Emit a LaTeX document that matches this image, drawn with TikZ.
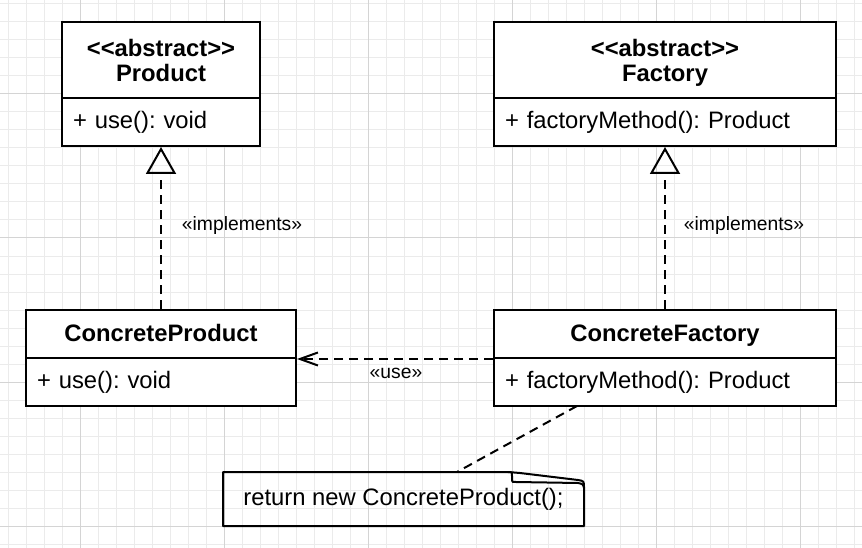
\documentclass[tikz,border=0pt]{standalone}
\usepackage{fontspec}
\setmainfont{Liberation Sans}
\usetikzlibrary{arrows.meta}
\definecolor{gridminor}{HTML}{EBEBEB}
\definecolor{gridmajor}{HTML}{D4D4D4}
\frenchspacing
\tikzset{
  classhead/.style={draw, fill=white, line width=2pt, inner sep=0pt,
    minimum width=#1, align=center,
    font=\fontsize{23.8}{25}\selectfont\bfseries},
  classbody/.style={draw, fill=white, line width=2pt, inner ysep=0pt, inner xsep=11pt,
    text width=#1-22pt, minimum height=48pt, align=left,
    font=\fontsize{23.8}{25}\selectfont},
  dashline/.style={line width=2pt, dash pattern=on 9pt off 6pt},
  lbl/.style={inner sep=0pt, font=\fontsize{19.3}{21}\selectfont},
  notetext/.style={inner sep=0pt, minimum width=361pt, minimum height=54pt,
    font=\fontsize{23.8}{25}\selectfont},
  noteline/.style={line width=2pt, line join=round},
}
\newcommand{\topstrut}{\rule{0pt}{23pt}}
\newcommand{\botstrut}{\rule[-5.5pt]{0pt}{5.5pt}}
\begin{document}
\begin{tikzpicture}[x=1pt, y=-1pt]
\useasboundingbox (0,0) rectangle (862,548);
\fill[white] (0,0) rectangle (862,548);
% grid
\foreach \i in {0,...,47} \draw[gridminor, line width=1pt] ({8+18*\i},0) -- ({8+18*\i},548);
\foreach \j in {0,...,30} \draw[gridminor, line width=1pt] (0,{4+18*\j}) -- (862,{4+18*\j});
\foreach \x in {80,224,368,512,656,800} \draw[gridmajor, line width=1pt] (\x,0) -- (\x,548);
\foreach \y in {94,238,382,526} \draw[gridmajor, line width=1pt] (0,\y) -- (862,\y);

% classes
\node[classhead=198pt, minimum height=76pt] (prodH) at (161,60) {\topstrut<{}<abstract>{}>\\Product\botstrut};
\node[classbody=198pt] (prodB) at (161,122) {+ use(): void};
\node[classhead=342pt, minimum height=76pt] (factH) at (665,60) {\topstrut<{}<abstract>{}>\\Factory\botstrut};
\node[classbody=342pt] (factB) at (665,122) {+ factoryMethod(): Product};
\node[classhead=270pt, minimum height=48pt, text height=17pt, text depth=2pt] (cprodH) at (161,334) {ConcreteProduct};
\node[classbody=270pt] (cprodB) at (161,382) {+ use(): void};
\node[classhead=342pt, minimum height=48pt, text height=17pt, text depth=2pt] (cfactH) at (665,334) {ConcreteFactory};
\node[classbody=342pt] (cfactB) at (665,382) {+ factoryMethod(): Product};

% realization arrows
\draw[dashline, -{Triangle[open, length=27pt, width=30pt, line width=2pt]}] (cprodH.north) -- (prodB.south);
\draw[dashline, -{Triangle[open, length=27pt, width=30pt, line width=2pt]}] (cfactH.north) -- (factB.south);
\node[lbl] (impl1) at (242,226) {«implements»};
\node[lbl] (impl2) at (744,226) {«implements»};

% use dependency
\draw[dashline, -{Straight Barb[length=18pt, width=13pt, line width=2pt]}] (cfactH.south west) -- (cprodH.south east);
\node[lbl] (uselbl) at (396,373) {«use»};

% note
\node[notetext] (note) at (403.5,499) {return new ConcreteProduct();};
\draw[noteline] (223,526) -- (223,472) -- (508,472)
  .. controls (514,472) .. (520,473) -- (578,480)
  .. controls (584,481) .. (584,488) -- (584,526) -- cycle;
\draw[noteline] (508,472) .. controls (512,472) .. (512,476) -- (512,480)
  .. controls (512,482) .. (516,482) -- (578,483) .. controls (583,484) .. (584,488);
\coordinate (nA) at (577,406);
\coordinate (nB) at (457,472);
\draw[dashline] (nA) -- (nB);
\end{tikzpicture}
\end{document}
